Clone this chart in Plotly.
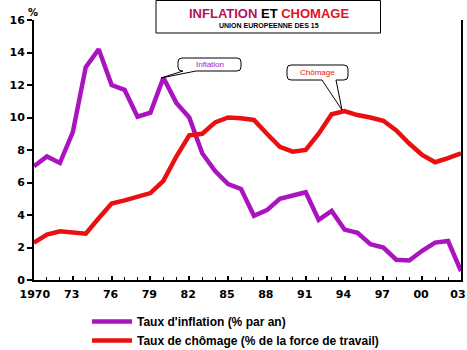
import plotly.graph_objects as go

years = list(range(1970, 2004))
inflation = [7.0, 7.6, 7.2, 9.1, 13.1, 14.2, 12.0, 11.7, 10.05, 10.3,
             12.45, 10.9, 10.0, 7.8, 6.7, 5.9, 5.6, 3.95, 4.3, 5.0,
             5.2, 5.4, 3.7, 4.25, 3.1, 2.9, 2.2, 2.0, 1.25, 1.2,
             1.8, 2.3, 2.4, 0.55]
chomage = [2.3, 2.8, 3.0, 2.95, 2.85, 3.8, 4.7, 4.9, 5.1, 5.35,
           6.1, 7.6, 8.9, 9.0, 9.7, 10.0, 9.95, 9.85, 9.0, 8.2,
           7.9, 8.0, 9.0, 10.2, 10.4, 10.15, 10.0, 9.8, 9.2, 8.4,
           7.7, 7.25, 7.5, 7.8]
tick_years = [1970, 1973, 1976, 1979, 1982, 1985, 1988, 1991, 1994, 1997, 2000, 2003]
tick_text = ["\u00a0\u00a01970", "\u00a073", "\u00a076", "\u00a079", "\u00a082", "\u00a085",
             "\u00a088", "\u00a091", "\u00a094", "\u00a097", "\u00a000", "03"]
y_ticks = [0, 2, 4, 6, 8, 10, 12, 14, 16]

PURPLE = "#AA14BE"
RED = "#E81010"

fig = go.Figure()
fig.add_trace(go.Scatter(x=years, y=inflation, mode="lines",
                         line=dict(color=PURPLE, width=4.5),
                         name="Taux d'inflation (% par an)"))
fig.add_trace(go.Scatter(x=years, y=chomage, mode="lines",
                         line=dict(color=RED, width=4.5),
                         name="Taux de chômage (% de la force de travail)"))

# plot area in pixels: x 34..461, y 20..280
L, R, T, B = 34, 461, 20, 280
def px(xp):
    return 1970 + (xp - L) / (R - L) * 33
def py(yp):
    return (B - yp) / (B - T) * 16
def ppx(xp):
    return (xp - L) / (R - L)
def ppy(yp):
    return (B - yp) / (B - T)

def bubble(x0, y0, x1, y1, wa, wb, tip, r=4):
    # rounded box with wedge pointer (pixel coords -> data coords)
    path = (f"M{px(x0+r)},{py(y0)} L{px(x1-r)},{py(y0)} "
            f"Q{px(x1)},{py(y0)} {px(x1)},{py(y0+r)} "
            f"L{px(x1)},{py(y1-r)} Q{px(x1)},{py(y1)} {px(x1-r)},{py(y1)} "
            f"L{px(wb)},{py(y1)} L{px(tip[0])},{py(tip[1])} L{px(wa)},{py(y1)} "
            f"L{px(x0+r)},{py(y1)} Q{px(x0)},{py(y1)} {px(x0)},{py(y1-r)} "
            f"L{px(x0)},{py(y0+r)} Q{px(x0)},{py(y0)} {px(x0+r)},{py(y0)} Z")
    return dict(type="path", xref="x", yref="y", path=path,
                line=dict(color="black", width=1), fillcolor="white", layer="above")

shapes = [
    dict(type="rect", xref="paper", yref="paper", x0=ppx(156), x1=ppx(380.5),
         y0=ppy(33), y1=ppy(0.5), line=dict(color="black", width=1), fillcolor="white"),
    bubble(178, 58, 241, 71, 183, 196, (161, 78)),
    bubble(287, 65, 348, 80, 322, 336, (342, 110)),
]

annotations = [
    dict(xref="paper", yref="paper", x=ppx(268.5), y=ppy(13), xanchor="center", yanchor="middle",
         showarrow=False,
         text=("<b><span style='color:#B3125E'>INFLATION</span> <span style='color:black'>ET</span> "
               "<span style='color:#E0141E'>CHOMAGE</span></b>"),
         font=dict(family="Liberation Sans", size=13)),
    dict(xref="paper", yref="paper", x=ppx(268.5), y=ppy(25.5), xanchor="center", yanchor="middle",
         showarrow=False, text="<b>UNION EUROPEENNE DES 15</b>",
         font=dict(family="Liberation Sans", size=7, color="black")),
    dict(xref="x", yref="y", x=px(209.5), y=py(64.5), showarrow=False, text="Inflation",
         font=dict(family="Liberation Sans", size=8, color=PURPLE)),
    dict(xref="x", yref="y", x=px(317.5), y=py(72.5), showarrow=False, text="Chômage",
         font=dict(family="Liberation Sans", size=8, color=RED)),
    dict(xref="paper", yref="paper", x=ppx(33), y=ppy(12), xanchor="center", yanchor="middle",
         showarrow=False, text="<b>%</b>",
         font=dict(family="DejaVu Sans", size=10, color="black")),
]

fig.update_layout(
    width=467, height=350,
    margin=dict(l=L, r=467 - R, t=T, b=350 - B, autoexpand=False),
    paper_bgcolor="white", plot_bgcolor="white",
    shapes=shapes, annotations=annotations,
    showlegend=True,
    legend=dict(x=ppx(87), y=ppy(307), xanchor="left", yanchor="top",
                bgcolor="rgba(0,0,0,0)", borderwidth=0, tracegroupgap=0,
                font=dict(family="Liberation Sans", size=12, color="black", weight="bold"),
                itemwidth=40),
    xaxis=dict(range=[1970, 2003], tickvals=tick_years, ticktext=tick_text,
               showgrid=False, zeroline=False, showline=True, linecolor="black", linewidth=2,
               ticks="inside", ticklen=4, tickwidth=1.5, tickcolor="black",
               ticklabeloverflow="allow", ticklabelstandoff=3, ticklabelshift=-3,
               minor=dict(dtick=1, tick0=1970, ticks="inside", ticklen=3, tickwidth=1.2, tickcolor="black"),
               tickfont=dict(family="DejaVu Sans", size=11, color="black", weight="bold")),
    yaxis=dict(range=[0, 16], tickvals=y_ticks, showgrid=False, zeroline=False,
               showline=True, linecolor="black", linewidth=2, mirror=True,
               ticks="outside", ticklen=5, tickwidth=2, tickcolor="black",
               tickfont=dict(family="DejaVu Sans", size=11, color="black", weight="bold")),
)

fig.write_html("out.html")
